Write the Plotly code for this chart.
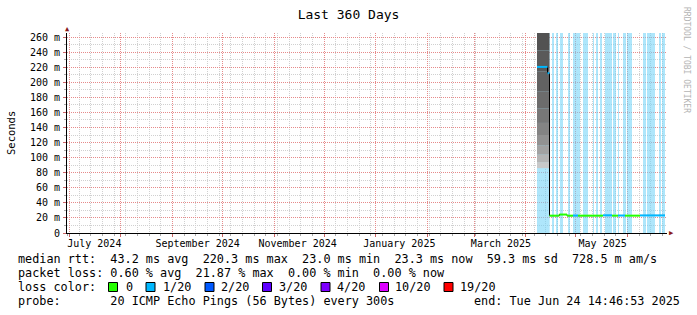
import pandas as pd
import plotly.graph_objects as go

# ---------------- data ----------------
END = pd.Timestamp("2025-06-24 14:46:53")
START = END - pd.Timedelta(days=360)
Y_MAX_MS = 265.3

y_tick_ms = list(range(0, 261, 20))
y_tick_text = ["0"] + [f"{v} m" for v in y_tick_ms[1:]]
y_minor_ms = list(range(10, 261, 20))

x_label_dates = ["2024-07-16", "2024-09-16", "2024-11-15", "2025-01-15", "2025-03-17", "2025-05-17"]
x_label_text = ["July 2024", "September 2024", "November 2024", "January 2025", "March 2025", "May 2025"]

loss_labels = ["0", "1/20", "2/20", "3/20", "4/20", "10/20", "19/20"]
loss_colors = ["#26ff00", "#00b8ff", "#0059ff", "#5e00ff", "#7e00ff", "#dd00ff", "#ff0000"]

# light-blue bands, in days after START
band_start_day = [282.0, 291.0, 293.4, 295.8, 300.6, 303.6, 309.6, 315.6, 317.4, 319.8,
                  322.8, 327.6, 330.6, 333.6, 336.0, 345.6, 348.0, 355.2, 357.0]
band_end_day = [289.6, 292.2, 294.6, 297.6, 301.8, 307.8, 312.6, 316.2, 318.6, 321.0,
                327.0, 329.4, 331.2, 335.4, 339.0, 347.4, 352.8, 356.4, 358.8]

# smoke (ping spread) in the first block
smoke_start_day = 282.0
smoke_end_day = 289.5
smoke_level_ms = [86, 94, 104, 116, 130, 146, 165, 188, 214, 242, 280]
smoke_gray = ["#c8c8c8", "#b4b4b4", "#a2a2a2", "#929292", "#848484",
              "#777777", "#6c6c6c", "#626262", "#5a5a5a", "#525252"]

# median rtt, stepwise segments
median_start_day = [282.0, 288.3, 289.5, 295.4, 300.0, 303.6, 306.6, 321.6, 327.0, 330.6, 334.8, 343.8]
median_end_day = [288.3, 289.5, 295.4, 300.0, 303.6, 306.6, 321.6, 327.0, 330.6, 334.8, 343.8, 358.8]
median_ms = [220.3, 212.0, 23.0, 24.5, 23.0, 23.2, 23.0, 23.5, 23.0, 23.2, 23.0, 23.3]
median_loss = [1, 1, 0, 0, 0, 1, 0, 1, 0, 1, 0, 1]

stat_rows = [
    "median rtt:  43.2 ms avg  220.3 ms max  23.0 ms min  23.3 ms now  59.3 ms sd  728.5 m am/s",
    "packet loss: 0.60 % avg  21.87 % max  0.00 % min  0.00 % now",
]
probe_text = "probe:       20 ICMP Echo Pings (56 Bytes) every 300s"
end_text = "end: Tue Jun 24 14:46:53 2025"

# ---------------- layout helpers ----------------
L, R, T, B = 67, 30, 33, 82
W, H = 697, 315
PW, PH = W - L - R, H - T - B


def px(xp):
    return (xp - L) / PW


def py(yp):
    return (H - B - yp) / PH


def day(d):
    return START + pd.Timedelta(days=d)


MONO = "DejaVu Sans Mono"
GRAY = "#d0d0d0"
RED = "#e68a8a"
DASH = "1px,1px"

fig = go.Figure()

# blue bands
fig.add_trace(go.Bar(
    x=[day((s + e) / 2) for s, e in zip(band_start_day, band_end_day)],
    y=[Y_MAX_MS] * len(band_start_day),
    base=0,
    width=[(e - s) * 86400000 for s, e in zip(band_start_day, band_end_day)],
    marker=dict(color="rgba(110,210,247,0.56)", line_width=0),
    hoverinfo="skip", showlegend=False,
))

# smoke
n_s = len(smoke_level_ms) - 1
fig.add_trace(go.Bar(
    x=[day((smoke_start_day + smoke_end_day) / 2)] * n_s,
    y=[smoke_level_ms[i + 1] - smoke_level_ms[i] for i in range(n_s)],
    base=smoke_level_ms[:-1],
    width=[(smoke_end_day - smoke_start_day) * 86400000] * n_s,
    marker=dict(color=smoke_gray, line_width=0),
    hoverinfo="skip", showlegend=False,
))

# thin dark median line (shows steps)
mx, my = [], []
for s, e, v in zip(median_start_day, median_end_day, median_ms):
    mx += [day(s), day(e)]
    my += [v, v]
fig.add_trace(go.Scatter(x=mx, y=my, mode="lines", line=dict(color="#000000", width=1),
                         hoverinfo="skip", showlegend=False))

# loss-coloured median segments
for li, col in enumerate(loss_colors):
    xs, ys = [], []
    for s, e, v, l in zip(median_start_day, median_end_day, median_ms, median_loss):
        if l == li:
            xs += [day(s), day(e), None]
            ys += [v, v, None]
    if xs:
        fig.add_trace(go.Scatter(x=xs, y=ys, mode="lines", line=dict(color=col, width=2),
                                 hoverinfo="skip", showlegend=False))

# dummy traces so overlay axes exist
for xa, ya in [("x2", "y"), ("x3", "y"), ("x", "y2")]:
    fig.add_trace(go.Scatter(x=[day(300)], y=[10], xaxis=xa, yaxis=ya, mode="markers",
                             marker=dict(opacity=0), hoverinfo="skip", showlegend=False))

xrange = [START, END]
fig.update_layout(
    width=W, height=H, margin=dict(l=L, r=R, t=T, b=B),
    plot_bgcolor="white", paper_bgcolor="white",
    barmode="overlay", showlegend=False,
    font=dict(family=MONO, size=10, color="black"),
    title=dict(text="Last 360 Days", x=0.5, xref="container", xanchor="center",
               y=1 - 14 / H, yref="container", yanchor="middle",
               font=dict(family=MONO, size=13, color="black")),
    xaxis=dict(type="date", range=xrange, tick0="2024-06-30", dtick=7 * 86400000,
               showgrid=True, gridcolor=GRAY, griddash=DASH, gridwidth=1,
               showticklabels=False, ticks="outside", ticklen=2, tickcolor="#aaaaaa",
               showline=True, linecolor="black", linewidth=1, zeroline=False,
               layer="above traces"),
    xaxis2=dict(type="date", range=xrange, overlaying="x", tick0="2024-07-01", dtick="M1",
                showgrid=True, gridcolor=RED, griddash=DASH, gridwidth=1,
                showticklabels=False, ticks="outside", ticklen=3, tickcolor="#cc6666",
                showline=False, zeroline=False),
    xaxis3=dict(type="date", range=xrange, overlaying="x", tickmode="array",
                tickvals=x_label_dates, ticktext=x_label_text, showgrid=False,
                ticks="", showline=False, zeroline=False, ticklabelstandoff=3,
                tickfont=dict(family=MONO, size=10, color="black")),
    yaxis=dict(range=[0, Y_MAX_MS], tickmode="array", tickvals=y_tick_ms, ticktext=y_tick_text,
               showgrid=True, gridcolor=RED, griddash=DASH, gridwidth=1,
               ticks="outside", ticklen=3, tickcolor="#cc6666",
               showline=True, linecolor="black", linewidth=1, zeroline=False,
               layer="above traces", ticklabelstandoff=1,
               tickfont=dict(family=MONO, size=10, color="black")),
    yaxis2=dict(range=[0, Y_MAX_MS], overlaying="y", side="left", tickmode="array",
                tickvals=y_minor_ms, showgrid=True, gridcolor=GRAY, griddash=DASH, gridwidth=1,
                showticklabels=False, ticks="outside", ticklen=2, tickcolor="#aaaaaa",
                showline=False, zeroline=False),
)

ann = []
LEG_FONT = dict(family=MONO, size=11.8, color="black")
row_y = [259, 273, 287, 301]
for txt, yy in zip(stat_rows, row_y[:2]):
    ann.append(dict(text=txt.replace(" ", "\u00a0"), x=px(16), y=py(yy), xref="paper", yref="paper",
                    xanchor="left", yanchor="middle", showarrow=False, font=LEG_FONT))
ann.append(dict(text="loss\u00a0color:", x=px(16), y=py(row_y[2]), xref="paper", yref="paper",
                xanchor="left", yanchor="middle", showarrow=False, font=LEG_FONT))
ann.append(dict(text=probe_text.replace(" ", "\u00a0"), x=px(16), y=py(row_y[3]), xref="paper",
                yref="paper", xanchor="left", yanchor="middle", showarrow=False, font=LEG_FONT))
ann.append(dict(text=end_text.replace(" ", "\u00a0"), x=px(682), y=py(row_y[3]), xref="paper",
                yref="paper", xanchor="right", yanchor="middle", showarrow=False, font=LEG_FONT))

swatch_x = [108.5, 146, 205, 262.5, 321, 379.5, 444]
label_x = [124, 160.7, 218.8, 276.8, 334.8, 392.9, 457.6]
shapes = []
for sx, lx, lab, col in zip(swatch_x, label_x, loss_labels, loss_colors):
    shapes.append(dict(type="rect", xref="paper", yref="paper",
                       x0=px(sx), x1=px(sx + 9), y0=py(row_y[2] - 4.5), y1=py(row_y[2] + 4.5),
                       fillcolor=col, line=dict(color="black", width=1)))
    ann.append(dict(text=lab, x=px(lx), y=py(row_y[2]), xref="paper", yref="paper",
                    xanchor="left", yanchor="middle", showarrow=False, font=LEG_FONT))

ann.append(dict(text="Seconds", x=px(11), y=py(133), xref="paper", yref="paper", textangle=-90,
                xanchor="center", yanchor="middle", showarrow=False,
                font=dict(family=MONO, size=10.5, color="black")))
ann.append(dict(text="RRDTOOL\u00a0/\u00a0TOBI\u00a0OETIKER", x=px(687), y=py(60), xref="paper",
                yref="paper", textangle=90, xanchor="center", yanchor="middle", showarrow=False,
                font=dict(family=MONO, size=8, color="#b4b4b4")))
ann.append(dict(text="\u25b2", x=px(67), y=py(29), xref="paper", yref="paper", xanchor="center",
                yanchor="middle", showarrow=False, font=dict(size=7, color="#8b1a1a")))
ann.append(dict(text="\u25b6", x=px(671), y=py(233), xref="paper", yref="paper", xanchor="center",
                yanchor="middle", showarrow=False, font=dict(size=7, color="#8b1a1a")))

fig.update_layout(annotations=ann, shapes=shapes)
fig.write_html("out.html")
